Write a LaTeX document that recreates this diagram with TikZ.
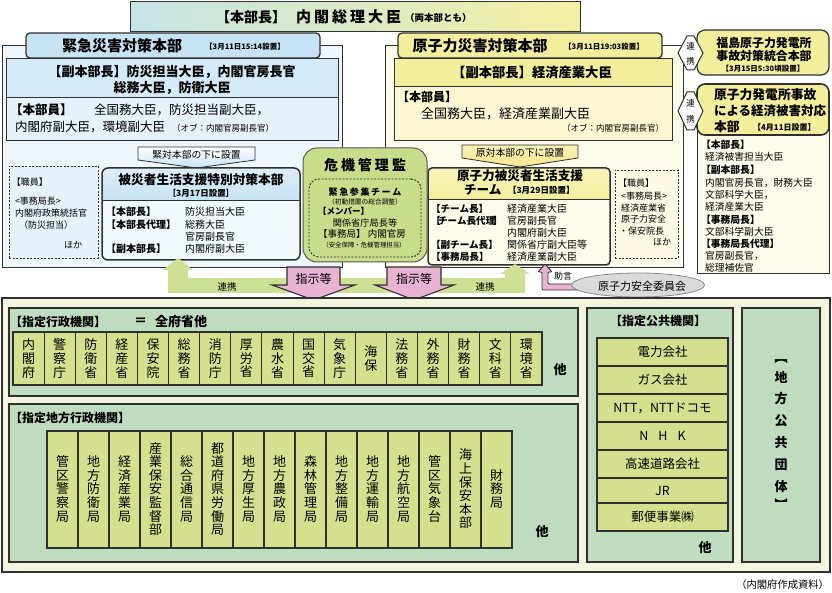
\documentclass[tikz,border=0pt]{standalone}
\usepackage{fontspec}
\setmainfont{Noto Sans CJK JP}
\usetikzlibrary{fit,shapes.geometric}
\newcommand\fsz[2]{\fontsize{#1}{#2}\selectfont}
\definecolor{linec}{HTML}{303030}
\definecolor{titleL}{HTML}{C4E4E6}
\definecolor{titleR}{HTML}{F4F0A2}
\definecolor{bluehdr}{HTML}{C6E3F4}
\definecolor{bluesub}{HTML}{D3EAF8}
\definecolor{bluebg}{HTML}{EEF6FB}
\definecolor{bluepale}{HTML}{E6F2FA}
\definecolor{yelhdr}{HTML}{F3EE9C}
\definecolor{yelpale}{HTML}{FAF7D2}
\definecolor{yelbg}{HTML}{FDFCEB}
\definecolor{kiki}{HTML}{C9DC8A}
\definecolor{pinkA}{HTML}{E8B3D1}
\definecolor{greenA}{HTML}{CEE094}
\definecolor{bggreen}{HTML}{BFDDBE}
\definecolor{cellc}{HTML}{D4E08E}
\definecolor{cream}{HTML}{F3F5DE}
\definecolor{ellg}{HTML}{DADADA}
\begin{document}
\begin{tikzpicture}[x=1pt,y=-1pt,
  every node/.style={inner sep=0pt,outer sep=0pt},
  ln/.style={draw=linec,line width=0.8pt},
  tab/.style={draw=linec,line width=1.3pt,rounded corners=4pt},
  dbox/.style={draw=linec,line width=0.9pt,dash pattern=on 2pt off 1.5pt},
  cell/.style={draw=linec,line width=1.1pt,fill=cellc,align=center},
  greenbox/.style={draw=linec,line width=1.1pt,fill=bggreen},
  pent/.style={draw=linec,line width=0.8pt},
  dblarr/.style={draw=linec,line width=1pt,fill=white},
  lw/.style={anchor=west},
]
\useasboundingbox (0,0) rectangle (832,593);
\fill[white] (0,0) rectangle (832,593);

% ---------------- title
\node[fit={(130,2)(580,32)}, draw=linec, line width=1pt, left color=titleL, right color=titleR] (top) {};
\node[lw,font=\bfseries\fsz{14}{16}] (topA) at (216,17) {【本部長】};
\node[lw,font=\bfseries\fsz{15}{16}] (topB) at (296,17) {内\hspace{3pt}閣\hspace{3pt}総\hspace{3pt}理\hspace{3pt}大\hspace{3pt}臣};
\node[lw,font=\bfseries\fsz{9.5}{10}] (topC) at (405,17.5) {（両本部とも）};

% ---------------- left: 緊急災害対策本部
\node[fit={(2,45)(342,267)}, ln, fill=bluebg] (Lout) {};
\node[fit={(6,58)(338,97)}, ln, fill=bluesub] (Lsub) {};
\node[fit={(6,97)(338,140)}, ln, fill=bluepale] (Lmem) {};
\node[fit={(26,33)(320,58)}, tab, fill=bluehdr] (Ltab) {};
\node[font=\bfseries\fsz{15}{16}] (LtabA) at (122,46) {緊急災害対策本部};
\node[font=\bfseries\fsz{7.5}{9}] (LtabB) at (245,47) {【3月11日15:14設置】};
\node[font=\bfseries\fsz{13}{16},align=center] (LsubT) at (172,80) {【副本部長】防災担当大臣，内閣官房長官\\総務大臣，防衛大臣};
\node[lw,font=\bfseries\fsz{12.5}{14}] (LmemA) at (10,110) {【本部員】};
\node[lw,font=\fsz{12.5}{14}] (LmemB) at (94,110) {全国務大臣，防災担当副大臣，};
\node[lw,font=\fsz{12.5}{14}] (LmemC) at (15,127) {内閣府副大臣，環境副大臣};
\node[lw,font=\fsz{8.5}{10}] (LmemD) at (172,128) {（オブ：内閣官房副長官）};

% pentagon
\draw[pent, top color=white, bottom color=bluehdr] (138,147) -- (255,147) -- (255,160) -- (196.5,168) -- (138,160) -- cycle;
\node[font=\fsz{9.8}{11}] (Lpent) at (196.5,154.5) {緊対本部の下に設置};

% left staff dashed box
\node[fit={(9,166)(98,258)}, dbox, fill=bluepale] (Lstaff) {};
\node[lw,font=\fsz{9}{10}] (Ls1) at (12,182) {【職員】};
\node[lw,font=\fsz{9}{10}] (Ls2) at (15,201) {<事務局長>};
\node[lw,font=\fsz{9}{10}] (Ls3) at (15,213) {内閣府政策統括官};
\node[lw,font=\fsz{9}{10}] (Ls4) at (19,225) {（防災担当）};
\node[lw,font=\fsz{9}{10}] (Ls5) at (64,245) {ほか};

% 被災者生活支援特別対策本部
\node[fit={(102,168)(300,260)}, fill=white!45!bluepale, rounded corners=6pt] (hisai) {};
\begin{scope}
\clip[rounded corners=6pt] (102,168) rectangle (300,260);
\fill[top color=white!40!bluehdr, bottom color=bluehdr] (102,168) rectangle (300,201);
\end{scope}
\draw[linec,line width=1pt] (102,201) -- (300,201);
\draw[linec,line width=1.5pt,rounded corners=6pt] (102,168) rectangle (300,260);
\node[font=\bfseries\fsz{12.7}{14}] (hisaiA) at (201,180) {被災者生活支援特別対策本部};
\node[font=\bfseries\fsz{8.5}{10}] (hisaiB) at (201,193) {［3月17日設置］};
\node[lw,font=\bfseries\fsz{10}{12}] (h1) at (106,212) {【本部長】};
\node[lw,font=\bfseries\fsz{10}{12}] (h2) at (106,224.5) {【本部長代理】};
\node[lw,font=\bfseries\fsz{10}{12}] (h3) at (106,249) {【副本部長】};
\node[lw,font=\fsz{10}{12}] (h1v) at (185,212) {防災担当大臣};
\node[lw,font=\fsz{10}{12}] (h2v) at (185,224.5) {総務大臣};
\node[lw,font=\fsz{10}{12}] (h2w) at (185,237) {官房副長官};
\node[lw,font=\fsz{10}{12}] (h3v) at (185,249) {内閣府副大臣};

% ---------------- right: 原子力災害対策本部
\node[fit={(385,45)(683,267)}, ln, fill=yelbg] (Rout) {};
\node[fit={(394,58)(672,86)}, ln, fill=yelhdr] (Rsub) {};
\node[fit={(394,86)(672,140)}, ln, fill=yelpale] (Rmem) {};
\node[fit={(398,33)(662,58)}, tab, fill=yelhdr] (Rtab) {};
\node[font=\bfseries\fsz{15}{16}] (RtabA) at (480,46) {原子力災害対策本部};
\node[font=\bfseries\fsz{7.5}{9}] (RtabB) at (604,47) {【3月11日19:03設置】};
\node[font=\bfseries\fsz{13.3}{15}] (RsubT) at (532,73) {【副本部長】経済産業大臣};
\node[lw,font=\bfseries\fsz{12}{14}] (RmemA) at (397,97) {【本部員】};
\node[lw,font=\fsz{13}{15}] (RmemB) at (421,114) {全国務大臣，経済産業副大臣};
\node[anchor=east,font=\fsz{8.5}{10}] (RmemC) at (664,128) {（オブ：内閣官房副長官）};

\draw[pent, top color=white!30!yelhdr, bottom color=yelhdr!90!orange] (462,145) -- (578,145) -- (578,158) -- (520,167) -- (462,158) -- cycle;
\node[font=\fsz{9.8}{11}] (Rpent) at (520,153) {原対本部の下に設置};

% 原子力被災者生活支援チーム
\node[fit={(428,168)(610,265)}, fill=yelbg, rounded corners=4pt] (team) {};
\begin{scope}
\clip[rounded corners=4pt] (428,168) rectangle (610,265);
\fill[top color=white!30!yelhdr, bottom color=yelhdr] (428,168) rectangle (610,200);
\end{scope}
\draw[linec,line width=1pt] (428,200) -- (610,200);
\draw[linec,line width=1.5pt,rounded corners=4pt] (428,168) rectangle (610,265);
\node[font=\bfseries\fsz{12.6}{14}] (teamA) at (520,176) {原子力被災者生活支援};
\node[lw,font=\bfseries\fsz{12.6}{14}] (teamB) at (464,190) {チーム};
\node[lw,font=\bfseries\fsz{8.5}{10}] (teamC) at (508,190) {【3月29日設置】};
\node[lw,font=\bfseries\fsz{9.6}{12}] (t1) at (431,209) {【チーム長】};
\node[lw,font=\bfseries\fsz{9.6}{12}] (t2) at (431,220.5) {【\kern-2.5pt チーム長代理\kern-2.5pt】};
\node[lw,font=\bfseries\fsz{9.6}{12}] (t3) at (431,245) {【副チーム長】};
\node[lw,font=\bfseries\fsz{9.6}{12}] (t4) at (431,257) {【事務局長】};
\node[lw,font=\fsz{10}{12}] (t1v) at (507,209) {経済産業大臣};
\node[lw,font=\fsz{10}{12}] (t2v) at (507,220.5) {官房副長官};
\node[lw,font=\fsz{10}{12}] (t2w) at (507,232.5) {内閣府副大臣};
\node[lw,font=\fsz{10}{12}] (t3v) at (507,245) {関係省庁副大臣等};
\node[lw,font=\fsz{10}{12}] (t4v) at (507,257) {経済産業副大臣};

% right staff dashed box
\node[fit={(615,170)(678,258)}, dbox, fill=yelpale!60!white] (Rstaff) {};
\node[lw,font=\fsz{9}{10}] (Rs1) at (618,183) {【職員】};
\node[lw,font=\fsz{9}{10}] (Rs2) at (621,196) {<事務局長>};
\node[lw,font=\fsz{9}{10}] (Rs3) at (621,208) {経済産業省};
\node[lw,font=\fsz{9}{10}] (Rs4) at (621,219.5) {原子力安全};
\node[lw,font=\fsz{9}{10}] (Rs5) at (619,231) {・保安院長};
\node[anchor=east,font=\fsz{9}{10}] (Rs6) at (671,242) {ほか};

% ---------------- 危機管理監
\node[fit={(303,148)(427,262)}, draw=linec!80, line width=1pt, rounded corners=14pt, fill=kiki] (kiki) {};
\node[font=\bfseries\fsz{14}{16}] (kikiT) at (365,165) {危\hspace{3pt}機\hspace{3pt}管\hspace{3pt}理\hspace{3pt}監};
\node[fit={(309,179)(421,257)}, dbox, rounded corners=10pt] (kteam) {};
\node[font=\bfseries\fsz{9}{10}] (k1) at (365,192) {緊\hspace{1.6pt}急\hspace{1.6pt}参\hspace{1.6pt}集\hspace{1.6pt}チ\hspace{1.6pt}ー\hspace{1.6pt}ム};
\node[font=\fsz{6.7}{8}] (k2) at (365,202) {（初動措置の総合調整）};
\node[lw,font=\bfseries\fsz{8.5}{10}] (k3) at (318,211.5) {【メンバー】};
\node[font=\fsz{9.2}{10}] (k4) at (365,222.5) {関係省庁局長等};
\node[font=\fsz{9.5}{10}] (k5) at (362,234) {【事務局】 内閣官房};
\node[font=\fsz{6.4}{8}] (k6) at (364,245) {（安全保障・危機管理担当）};

% ---------------- 福島 / 経済被害 boxes
\node[fit={(697,30)(829,75)}, draw=linec, line width=1.2pt, rounded corners=8pt, fill=yelhdr] (fuku) {};
\node[font=\bfseries\fsz{11.9}{13}] (fukuA) at (764,43) {福島原子力発電所};
\node[font=\bfseries\fsz{11.9}{13}] (fukuB) at (764,56) {事故対策統合本部};
\node[font=\bfseries\fsz{7.5}{9}] (fukuC) at (763,68.5) {【3月15日5:30頃設置】};

\node[fit={(697,122)(829,274)}, draw=linec, line width=1pt, fill=yelbg] (keiOut) {};
\node[fit={(697,84)(829,135)}, draw=linec, line width=1.6pt, rounded corners=8pt, fill=yelhdr] (kei) {};
\node[lw,font=\bfseries\fsz{12.8}{14}] (keiA) at (714,95) {原子力発電所事故};
\node[lw,font=\bfseries\fsz{12.5}{14}] (keiB) at (714,111) {による経済被害対応};
\node[lw,font=\bfseries\fsz{12.8}{14}] (keiC) at (714,127) {本部};
\node[lw,font=\bfseries\fsz{8}{9}] (keiD) at (753,127) {【4月11日設置】};
\foreach \t/\yy/\bb in {【本部長】/145/1, 経済被害担当大臣/157/0, 【副本部長】/170/1, {内閣官房長官，財務大臣}/182.5/0, {文部科学大臣，}/195/0, 経済産業大臣/207/0, 【事務局長】/219.5/1, 文部科学副大臣/231.5/0, 【事務局長代理】/243.5/1, {官房副長官，}/256/0, 総理補佐官/267.5/0}{
  \ifnum\bb=1
    \node[lw,font=\bfseries\fsz{9.8}{11}] at (701,\yy) {\t};
  \else
    \node[lw,font=\fsz{9.8}{11}] at (705,\yy) {\t};
  \fi
}

% 連携 double arrows
\draw[dblarr] (678,53) -- (687,36) -- (694,36) -- (703,53) -- (694,70) -- (687,70) -- cycle;
\node[font=\fsz{8.5}{9}] (rk1a) at (690.5,46) {連};
\node[font=\fsz{8.5}{9}] (rk1b) at (690.5,61) {携};
\draw[dblarr] (678,111) -- (687,92) -- (694,92) -- (703,111) -- (694,130) -- (687,130) -- cycle;
\node[font=\fsz{8.5}{9}] (rk2a) at (690.5,103) {連};
\node[font=\fsz{8.5}{9}] (rk2b) at (690.5,119) {携};

% ---------------- arrows between upper and lower
\fill[greenA] (178,258) -- (193,270) -- (188,270) -- (188,278) -- (505,278) -- (505,274) -- (500,274) -- (515,264) -- (530,274) -- (525,274) -- (525,293) -- (168,293) -- (168,270) -- (163,270) -- cycle;
\node[font=\fsz{9.5}{10}] (renL) at (227,287) {連携};
\node[font=\fsz{9.5}{10}] (renR) at (485,287) {連携};

\draw[draw=linec,line width=1.1pt,fill=pinkA] (287,267) -- (340,267) -- (340,285) -- (355,285) -- (313.5,300) -- (272,285) -- (287,285) -- cycle;
\node[font=\fsz{12}{13}] (sj1) at (313.5,279) {指示等};
\draw[draw=linec,line width=1.1pt,fill=pinkA] (387,267) -- (441,267) -- (441,285) -- (454,285) -- (414,300) -- (375,285) -- (387,285) -- cycle;
\node[font=\fsz{12}{13}] (sj2) at (414,279) {指示等};

\draw[draw=linec,line width=0.9pt,fill=pinkA,rounded corners=1pt] (545,264) -- (552,272) -- (548,272) -- (548,284) -- (590,284) -- (590,290) -- (542,290) -- (542,272) -- (538,272) -- cycle;
\node[font=\fsz{9}{10}] (jogen) at (563,276) {助言};
\node[ellipse, draw=black!45, line width=0.8pt, fill=ellg, minimum width=133pt, minimum height=24pt] (nsc) at (638,285) {};
\node[font=\fsz{11}{12}] (nscT) at (642,286) {原子力安全委員会};

% ---------------- lower container
\node[fit={(2,298)(830,572)}, draw=linec, line width=1.6pt, fill=cream] (low) {};

% 指定行政機関
\node[fit={(9,308)(578,396)}, greenbox] (gyosei) {};
\node[lw,font=\bfseries\fsz{12}{14}] (gyoT) at (10,322) {【指定行政機関】};
\node[lw,font=\bfseries\fsz{13}{14}] (gyoE) at (134,322) {＝};
\node[lw,font=\bfseries\fsz{13}{14}] (gyoF) at (155,322) {全府省他};
\foreach \t [count=\i from 0] in {{内\\閣\\府},{警\\察\\庁},{防\\衛\\省},{経\\産\\省},{保\\安\\院},{総\\務\\省},{消\\防\\庁},{厚\\労\\省},{農\\水\\省},{国\\交\\省},{気\\象\\庁},{海\\保},{法\\務\\省},{外\\務\\省},{財\\務\\省},{文\\科\\省},{環\\境\\省}}{
  \node[cell, minimum width=31.12pt, minimum height=53pt, font=\fsz{13}{13.8}] (u\i) at ({13+31.118*(\i+0.5)},358.5) {\t};
}
\node[font=\bfseries\fsz{13}{14}] (gyoO) at (560,370) {他};

% 指定地方行政機関
\node[fit={(9,404)(578,562)}, greenbox] (chiho) {};
\node[lw,font=\bfseries\fsz{12}{14}] (chiT) at (10,418) {【指定地方行政機関】};
\foreach \t [count=\i from 0] in {{管\\区\\警\\察\\局},{地\\方\\防\\衛\\局},{経\\済\\産\\業\\局},{産\\業\\保\\安\\監\\督\\部},{総\\合\\通\\信\\局},{都\\道\\府\\県\\労\\働\\局},{地\\方\\厚\\生\\局},{地\\方\\農\\政\\局},{森\\林\\管\\理\\局},{地\\方\\整\\備\\局},{地\\方\\運\\輸\\局},{地\\方\\航\\空\\局},{管\\区\\気\\象\\台},{海\\上\\保\\安\\本\\部},{財\\務\\局}}{
  \node[cell, minimum width=31pt, minimum height=117pt] (d\i) at ({47+31*(\i+0.5)},489.5) {};
  \node[align=center, font=\fsz{13}{13.6}] (dt\i) at ({47+31*(\i+0.5)},489) {\t};
}
\node[font=\bfseries\fsz{13}{14}] (chiO) at (542,532) {他};

% 指定公共機関
\node[fit={(587,308)(733,562)}, greenbox] (kokyo) {};
\node[font=\bfseries\fsz{12}{14}] (kokT) at (658,321) {【指定公共機関】};
\foreach \t/\ya/\yb [count=\i] in {電力会社/338/366, ガス会社/366/394, {NTT，NTTドコモ}/394/422, {N\hspace{10pt}H\hspace{10pt}K}/422/450, 高速道路会社/450/478, JR/478/503, 郵便事業㈱/503/531}{
  \node[fit={(597,\ya)(728,\yb)}, draw=linec, line width=1.1pt, fill=cellc] (p\i) {};
  \node[font=\fsz{12.5}{14}] (pt\i) at ({662.5},{(\ya+\yb)/2}) {\t};
}
\node[font=\bfseries\fsz{13}{14}] (kokO) at (705,548) {他};

% 地方公共団体
\node[fit={(742,308)(820,562)}, greenbox] (chiko) {};
\node[font=\bfseries\fsz{13}{14}] (cb1) at (781,362) {︻};
\foreach \t [count=\i from 0] in {地,方,公,共,団,体}{
  \node[font=\bfseries\fsz{13}{14}] (cc\i) at (781,{377+22*\i}) {\t};
}
\node[font=\bfseries\fsz{13}{14}] (cb2) at (781,504) {︼};

% footer
\node[anchor=east,font=\fsz{10.3}{12}] (foot) at (829,585) {（内閣府作成資料）};
\end{tikzpicture}
\end{document}
